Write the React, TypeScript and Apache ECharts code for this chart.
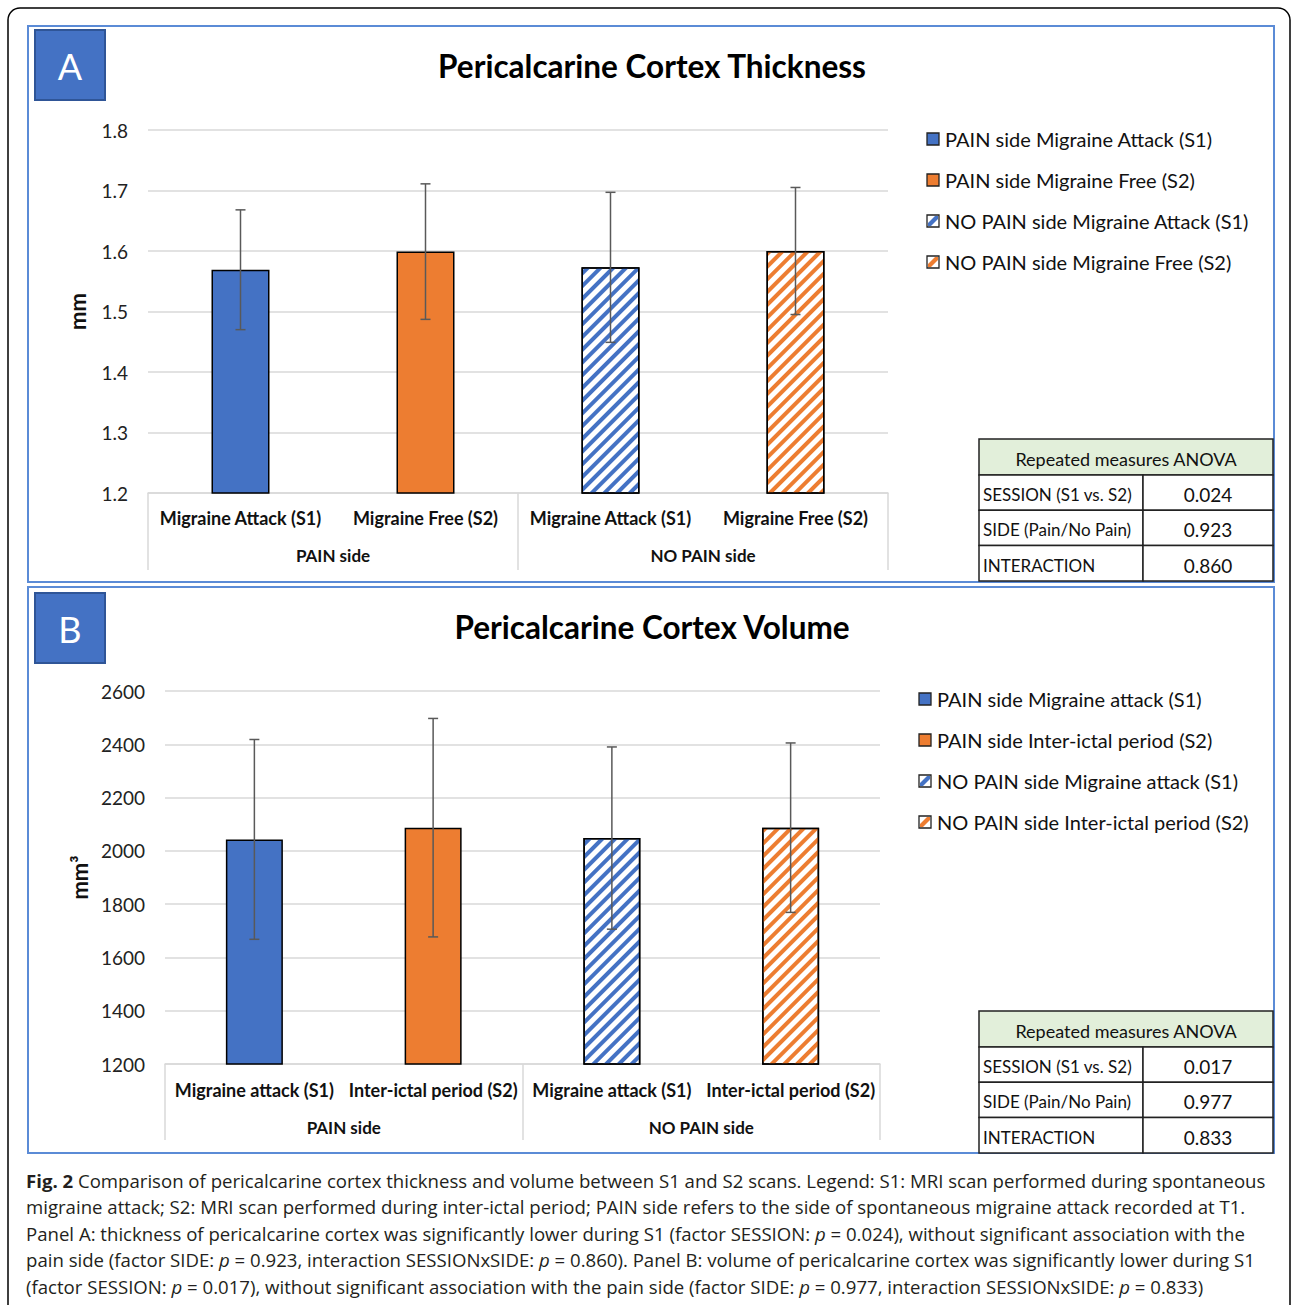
import React, { useEffect, useRef } from "react";
import * as echarts from "echarts";

// ---------- DATA ----------
const categoriesA = ["Migraine Attack (S1)", "Migraine Free (S2)", "Migraine Attack (S1)", "Migraine Free (S2)"];
const categoriesB = ["Migraine attack (S1)", "Inter-ictal period (S2)", "Migraine attack (S1)", "Inter-ictal period (S2)"];
const groups = ["PAIN side", "NO PAIN side"];
const meansA = [1.569, 1.599, 1.573, 1.600];
const sdA = [0.099, 0.112, 0.124, 0.105];
const meansB = [2043, 2087, 2048, 2087];
const sdB = [375, 410, 342, 318];
const legendA = [
  "PAIN side Migraine Attack (S1)",
  "PAIN side Migraine Free (S2)",
  "NO PAIN side Migraine Attack (S1)",
  "NO PAIN side Migraine Free (S2)",
];
const legendB = [
  "PAIN side Migraine attack (S1)",
  "PAIN side Inter-ictal period (S2)",
  "NO PAIN side Migraine attack (S1)",
  "NO PAIN side Inter-ictal period (S2)",
];
const anovaTitle = "Repeated measures ANOVA";
const anovaFactors = ["SESSION (S1 vs. S2)", "SIDE (Pain/No Pain)", "INTERACTION"];
const anovaA = ["0.024", "0.923", "0.860"];
const anovaB = ["0.017", "0.977", "0.833"];
const titleA = "Pericalcarine Cortex Thickness";
const titleB = "Pericalcarine Cortex Volume";
const captionLines = [
  "{b|Fig. 2} Comparison of pericalcarine cortex thickness and volume between S1 and S2 scans. Legend: S1: MRI scan performed during spontaneous",
  "migraine attack; S2: MRI scan performed during inter-ictal period; PAIN side refers to the side of spontaneous migraine attack recorded at T1.",
  "Panel A: thickness of pericalcarine cortex was significantly lower during S1 (factor SESSION: {i|p} = 0.024), without significant association with the",
  "pain side (factor SIDE: {i|p} = 0.923, interaction SESSIONxSIDE: {i|p} = 0.860). Panel B: volume of pericalcarine cortex was significantly lower during S1",
  "(factor SESSION: {i|p} = 0.017), without significant association with the pain side (factor SIDE: {i|p} = 0.977, interaction SESSIONxSIDE: {i|p} = 0.833)",
];

// ---------- STYLE ----------
const BLUE = "#4472C4";
const ORANGE = "#ED7D31";
const FONT = "Lato";
const CAP_FONT = "Open Sans";
const CAP_SIZE = 18.6;
const GRID_C = "#d9d9d9";
const colors = [BLUE, ORANGE, BLUE, ORANGE];
const hatched = [false, false, true, true];

function itemStyleFor(i: number) {
  if (!hatched[i]) return { color: colors[i], borderColor: "#000", borderWidth: 1.5 };
  return {
    color: "#ffffff",
    borderColor: "#000",
    borderWidth: 1.5,
    decal: {
      symbol: "rect",
      symbolSize: 1,
      dashArrayX: [1, 0],
      dashArrayY: [3.5, 4.5],
      rotation: -Math.PI / 4,
      color: colors[i],
    },
  };
}

function errorSeries(gridIdx: number, means: number[], sds: number[]) {
  return {
    type: "custom",
    xAxisIndex: gridIdx * 2,
    yAxisIndex: gridIdx,
    z: 10,
    silent: true,
    data: means.map((m, i) => [i, m - sds[i], m + sds[i]]),
    encode: { x: 0, y: [1, 2] },
    renderItem: (params: any, api: any) => {
      const x = api.value(0);
      const lo = api.coord([x, api.value(1)]);
      const hi = api.coord([x, api.value(2)]);
      const cap = 5;
      const st = { stroke: "#595959", lineWidth: 1.5 };
      return {
        type: "group",
        children: [
          { type: "line", shape: { x1: lo[0], y1: lo[1], x2: hi[0], y2: hi[1] }, style: st },
          { type: "line", shape: { x1: hi[0] - cap, y1: hi[1], x2: hi[0] + cap, y2: hi[1] }, style: st },
          { type: "line", shape: { x1: lo[0] - cap, y1: lo[1], x2: lo[0] + cap, y2: lo[1] }, style: st },
        ],
      };
    },
  };
}

function legendGraphics(names: string[], iconX: number, textX: number, ys: number[]) {
  const out: any[] = [];
  names.forEach((n, i) => {
    const y = ys[i];
    const s = 12;
    out.push({
      type: "rect",
      shape: { x: iconX, y: y - s / 2, width: s, height: s },
      style: { fill: hatched[i] ? "#fff" : colors[i], stroke: "#222", lineWidth: 1.3 },
    });
    if (hatched[i]) {
      out.push({
        type: "polygon",
        shape: {
          points: [
            [iconX + 1, y + s / 2 - 4],
            [iconX + s - 4, y - s / 2 + 1],
            [iconX + s - 1, y - s / 2 + 1],
            [iconX + s - 1, y - s / 2 + 4],
            [iconX + 4, y + s / 2 - 1],
            [iconX + 1, y + s / 2 - 1],
          ],
        },
        style: { fill: colors[i] },
      });
    }
    out.push({
      type: "text",
      x: textX,
      y,
      style: { text: n, font: `20px ${FONT}`, fill: "#111", textVerticalAlign: "middle", textAlign: "left" },
    });
  });
  return out;
}

function tableGraphics(top: number, values: string[]) {
  const x0 = 979, x1 = 1273, xm = 1143;
  const hh = 36, rh = 35.3;
  const out: any[] = [];
  out.push({ type: "rect", shape: { x: x0, y: top, width: x1 - x0, height: hh }, style: { fill: "#E2EFDA", stroke: "#222", lineWidth: 1.5 } });
  out.push({ type: "text", x: (x0 + x1) / 2, y: top + hh / 2 + 2, style: { text: anovaTitle, font: `18px ${FONT}`, fill: "#111", textAlign: "center", textVerticalAlign: "middle" } });
  anovaFactors.forEach((f, i) => {
    const y = top + hh + i * rh;
    out.push({ type: "rect", shape: { x: x0, y, width: xm - x0, height: rh }, style: { fill: "#fff", stroke: "#222", lineWidth: 1.5 } });
    out.push({ type: "rect", shape: { x: xm, y, width: x1 - xm, height: rh }, style: { fill: "#fff", stroke: "#222", lineWidth: 1.5 } });
    out.push({ type: "text", x: x0 + 4, y: y + rh / 2 + 2, style: { text: f, font: `17px ${FONT}`, fill: "#111", textAlign: "left", textVerticalAlign: "middle" } });
    out.push({ type: "text", x: (xm + x1) / 2, y: y + rh / 2 + 2, style: { text: values[i], font: `19px ${FONT}`, fill: "#111", textAlign: "center", textVerticalAlign: "middle" } });
  });
  return out;
}

function panelBox(letter: string, top: number) {
  return [
    { type: "rect", shape: { x: 35, y: top, width: 70, height: 70 }, style: { fill: BLUE, stroke: "#2F5597", lineWidth: 2 } },
    { type: "text", x: 70, y: top + 36, style: { text: letter, font: `36px ${FONT}`, fill: "#fff", textAlign: "center", textVerticalAlign: "middle" } },
  ];
}

export default function App() {
  const ref = useRef<HTMLDivElement>(null);
  useEffect(() => {
    if (!ref.current) return;
    const chart = echarts.init(ref.current, null, { renderer: "svg" });

    const xAxisPair = (gridIndex: number, cats: string[], tickLen: number, m1: number, m2: number) => [
      {
        type: "category",
        gridIndex,
        data: cats,
        axisLine: { show: true, lineStyle: { color: GRID_C, width: 1.5 } },
        axisTick: { show: false },
        axisLabel: { interval: 0, margin: m1, fontFamily: FONT, fontWeight: "bold", fontSize: 18, color: "#111" },
      },
      {
        type: "category",
        gridIndex,
        position: "bottom",
        data: groups,
        axisLine: { show: false },
        axisTick: { show: true, length: tickLen, lineStyle: { color: GRID_C, width: 1.5 } },
        axisLabel: { interval: 0, margin: m2, fontFamily: FONT, fontWeight: "bold", fontSize: 17, color: "#111" },
      },
    ];

    const yAxisFor = (gridIndex: number, min: number, max: number, interval: number, fmt: (v: number) => string, name: string) => ({
      type: "value",
      gridIndex,
      min,
      max,
      interval,
      name,
      nameLocation: "middle",
      nameGap: gridIndex === 0 ? 60 : 74,
      nameRotate: 90,
      nameTextStyle: { fontFamily: FONT, fontWeight: "bold", fontSize: 22, color: "#111" },
      axisLine: { show: false },
      axisTick: { show: false },
      splitLine: { lineStyle: { color: GRID_C, width: 1.5 } },
      axisLabel: { margin: 20, fontFamily: FONT, fontSize: 19, color: "#222", formatter: fmt },
    });

    const captionGraphics = captionLines.map((t, i) => ({
      type: "text",
      x: 26,
      y: 1180 + i * 26.5,
      style: {
        text: t,
        font: `${CAP_SIZE}px '${CAP_FONT}'`,
        fill: "#231F20",
        textAlign: "left",
        textVerticalAlign: "middle",
        rich: {
          b: { fontWeight: "bold", fontFamily: CAP_FONT, fontSize: CAP_SIZE, fill: "#231F20" },
          i: { fontStyle: "italic", fontFamily: CAP_FONT, fontSize: CAP_SIZE, fill: "#231F20" },
        },
      },
    }));

    const titleText = (t: string, y: number) => ({
      type: "text",
      x: 652,
      y,
      style: { text: t, font: `bold 31.5px ${FONT}`, fill: "#000", textAlign: "center", textVerticalAlign: "middle" },
    });

    chart.setOption({
      animation: false,
      backgroundColor: "#fff",
      grid: [
        { left: 148, top: 130, width: 740, height: 363 },
        { left: 165, top: 691, width: 715, height: 373 },
      ],
      xAxis: [...xAxisPair(0, categoriesA, 77, 16, 54), ...xAxisPair(1, categoriesB, 76, 17, 55)],
      yAxis: [
        yAxisFor(0, 1.2, 1.8, 0.1, (v: number) => v.toFixed(1), "mm"),
        yAxisFor(1, 1200, 2600, 200, (v: number) => String(Math.round(v)), "mm\u00B3"),
      ],
      series: [
        {
          type: "bar",
          xAxisIndex: 0,
          yAxisIndex: 0,
          barWidth: 58,
          data: meansA.map((v, i) => ({ value: v, itemStyle: itemStyleFor(i) })),
        },
        errorSeries(0, meansA, sdA),
        {
          type: "bar",
          xAxisIndex: 2,
          yAxisIndex: 1,
          barWidth: 57,
          data: meansB.map((v, i) => ({ value: v, itemStyle: itemStyleFor(i) })),
        },
        errorSeries(1, meansB, sdB),
      ],
      graphic: [
        { type: "rect", shape: { x: 8, y: 8, width: 1282, height: 1320, r: 12 }, style: { fill: "none", stroke: "#000", lineWidth: 1.5 } },
        { type: "rect", shape: { x: 28, y: 26, width: 1246, height: 556 }, style: { fill: "none", stroke: "#5B8BD6", lineWidth: 2 } },
        { type: "rect", shape: { x: 28, y: 587, width: 1246, height: 566 }, style: { fill: "none", stroke: "#5B8BD6", lineWidth: 2 } },
        titleText(titleA, 66),
        titleText(titleB, 627),
        ...panelBox("A", 30),
        ...panelBox("B", 593),
        ...legendGraphics(legendA, 927, 945, [139, 180, 221, 262]),
        ...legendGraphics(legendB, 919, 937, [699, 740, 781, 822]),
        ...tableGraphics(439, anovaA),
        ...tableGraphics(1011, anovaB),
        ...captionGraphics,
      ],
    });
    return () => chart.dispose();
  }, []);
  return <div ref={ref} style={{ position: "absolute", left: 0, top: 0, width: 1292, height: 1305 }} />;
}
